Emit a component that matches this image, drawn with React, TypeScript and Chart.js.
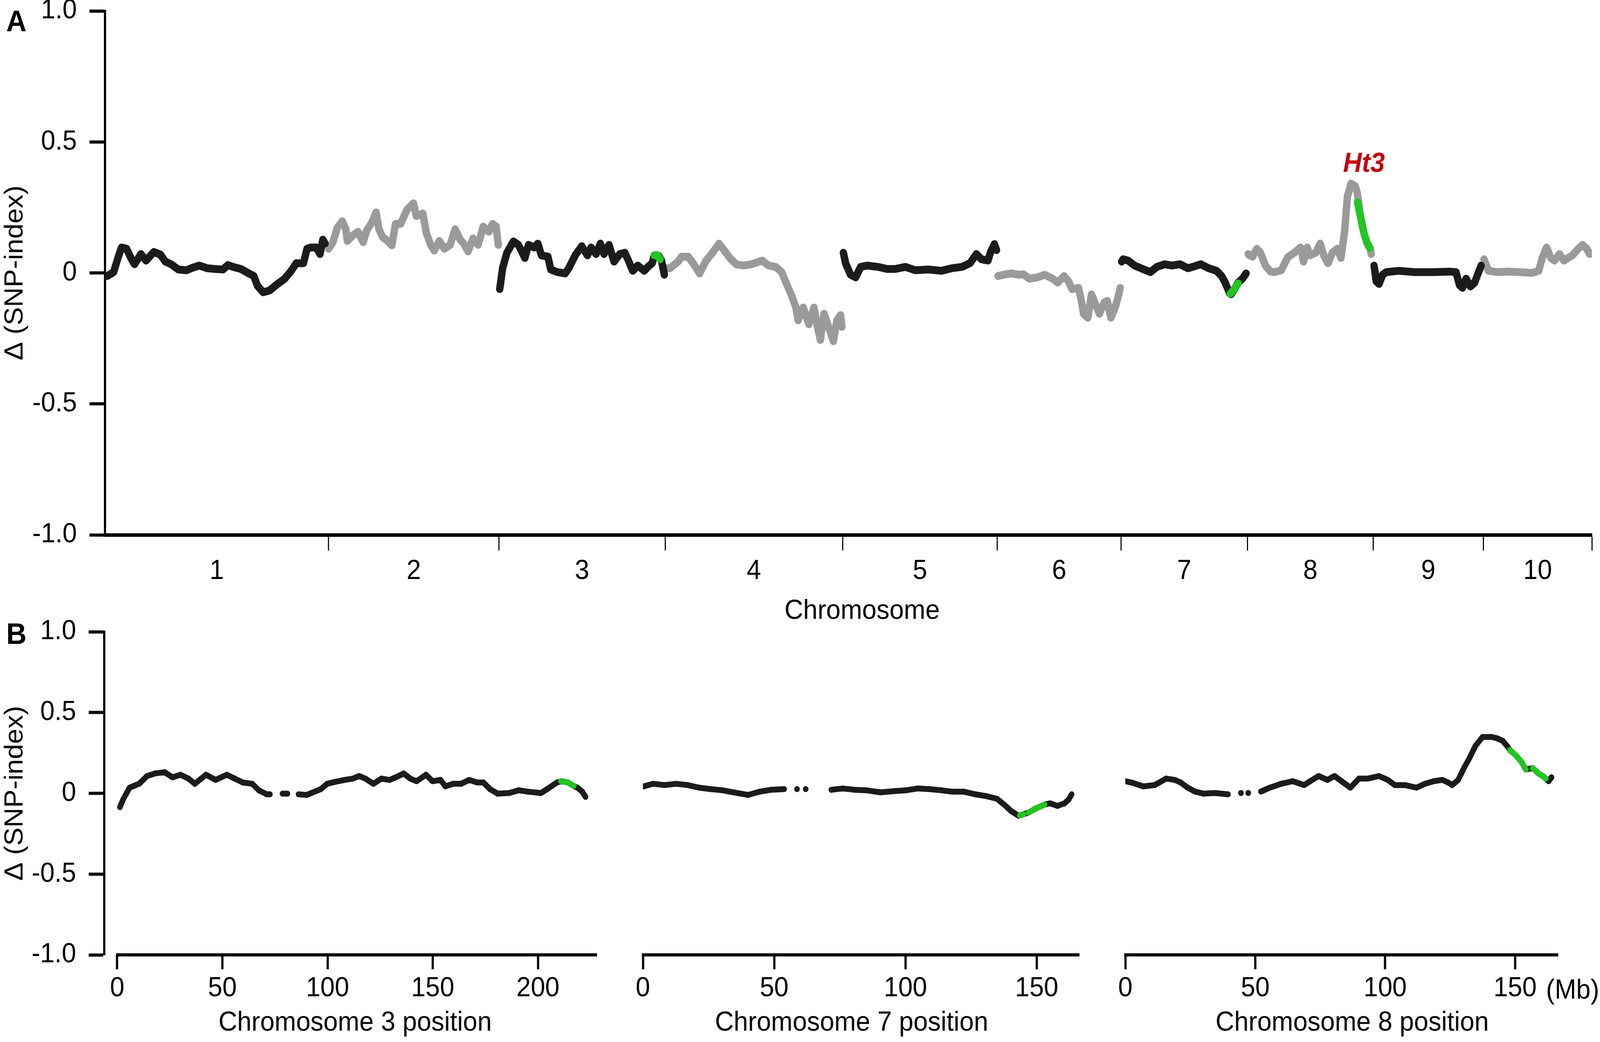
import { useEffect, useRef } from 'react';
import { Chart, registerables } from 'chart.js';

Chart.register(...registerables);

Chart.defaults.font.family = '"Liberation Sans", Arial, Helvetica, sans-serif';
Chart.defaults.color = '#000';

// ---------- data ----------
const chromosomes = ['1', '2', '3', '4', '5', '6', '7', '8', '9', '10'];
const chromLengthsMb = [311, 237, 231, 247, 215, 172, 176, 175, 153, 151];

// [position (Mb), delta SNP-index]
const chr1 = [[3, -0.012], [12, 0.003], [18, 0.057], [23, 0.097], [30, 0.092], [36, 0.057], [41, 0.033], [50, 0.072], [57, 0.047], [68, 0.08], [77, 0.07], [84, 0.043], [92, 0.033], [102, 0.013], [113, 0.01], [122, 0.02], [131, 0.028], [142, 0.018], [153, 0.015], [164, 0.013], [171, 0.03], [178, 0.023], [189, 0.015], [200, -0.002], [207, -0.012], [212, -0.049], [220, -0.074], [229, -0.067], [240, -0.042], [250, -0.022], [259, 0.008], [266, 0.037], [276, 0.037], [281, 0.092], [286, 0.097], [294, 0.097], [299, 0.072], [303, 0.127], [306, 0.112]];
const chr2 = [[0, 0.092], [6, 0.117], [12, 0.172], [19, 0.197], [24, 0.167], [26, 0.122], [33, 0.142], [41, 0.157], [48, 0.117], [53, 0.162], [60, 0.192], [66, 0.231], [70, 0.167], [75, 0.137], [82, 0.122], [88, 0.105], [93, 0.187], [100, 0.187], [109, 0.241], [118, 0.266], [122, 0.217], [131, 0.227], [136, 0.152], [142, 0.107], [147, 0.085], [154, 0.122], [161, 0.092], [169, 0.107], [176, 0.167], [183, 0.127], [188, 0.112], [194, 0.082], [201, 0.132], [208, 0.107], [215, 0.177], [223, 0.157], [228, 0.187], [233, 0.177], [236, 0.107]];
const chr3 = [[1, -0.062], [5, 0.018], [11, 0.077], [20, 0.12], [27, 0.107], [36, 0.057], [41, 0.107], [49, 0.097], [54, 0.112], [59, 0.067], [68, 0.062], [72, 0.013], [81, 0.003], [92, -0.002], [97, 0.018], [106, 0.067], [115, 0.102], [123, 0.067], [128, 0.097], [135, 0.072], [141, 0.112], [146, 0.072], [153, 0.107], [160, 0.043], [168, 0.072], [175, 0.077], [180, 0.047], [186, 0.008], [193, 0.028], [202, 0.008], [207, 0.023], [213, 0.037], [216, 0.067], [222, 0.065], [226, 0.047], [230, -0.007]];
const chr4 = [[1, 0.018], [7, 0.018], [18, 0.043], [23, 0.062], [32, 0.062], [39, 0.037], [48, -0.002], [57, 0.047], [66, 0.077], [75, 0.112], [82, 0.087], [90, 0.057], [99, 0.033], [109, 0.028], [120, 0.033], [135, 0.047], [144, 0.028], [154, 0.023], [162, 0.003], [169, -0.042], [176, -0.087], [182, -0.132], [185, -0.181], [192, -0.132], [200, -0.196], [207, -0.132], [212, -0.206], [216, -0.256], [221, -0.156], [228, -0.211], [234, -0.261], [239, -0.181], [244, -0.161], [246, -0.206]];
const chr5 = [[1, 0.077], [4, 0.037], [11, -0.007], [18, -0.017], [25, 0.023], [34, 0.028], [49, 0.023], [62, 0.015], [73, 0.015], [87, 0.023], [101, 0.01], [119, 0.013], [137, 0.008], [152, 0.018], [166, 0.023], [177, 0.037], [186, 0.072], [193, 0.052], [202, 0.047], [206, 0.082], [211, 0.11], [214, 0.087]];
const chr6 = [[1, -0.012], [9, -0.007], [20, -0.002], [30, -0.007], [36, -0.005], [45, -0.022], [56, -0.017], [66, -0.007], [77, -0.022], [84, -0.037], [93, -0.012], [99, -0.032], [104, -0.062], [113, -0.057], [117, -0.107], [120, -0.156], [126, -0.171], [131, -0.082], [137, -0.122], [142, -0.156], [149, -0.112], [153, -0.107], [158, -0.171], [164, -0.132], [169, -0.082], [171, -0.057]];
const chr7 = [[1, 0.043], [3, 0.052], [10, 0.047], [19, 0.028], [32, 0.013], [41, 0.003], [50, 0.023], [61, 0.033], [71, 0.028], [82, 0.033], [93, 0.018], [100, 0.023], [111, 0.033], [122, 0.018], [133, 0.008], [140, -0.012], [145, -0.037], [151, -0.077], [153, -0.082], [158, -0.062], [163, -0.037], [169, -0.022], [174, -0.002]];
const chr8 = [[1, 0.072], [3, 0.067], [7, 0.062], [13, 0.092], [18, 0.077], [25, 0.028], [32, 0.005], [37, 0.003], [47, 0.01], [56, 0.06], [65, 0.077], [74, 0.097], [78, 0.043], [83, 0.097], [87, 0.067], [95, 0.077], [101, 0.112], [106, 0.067], [112, 0.037], [118, 0.077], [125, 0.092], [130, 0.057], [135, 0.157], [139, 0.291], [144, 0.341], [150, 0.331], [153, 0.301], [157, 0.217], [162, 0.152], [166, 0.117], [171, 0.092], [172, 0.072]];
const chr9 = [[1, 0.028], [2, 0.012], [4, -0.032], [8, -0.042], [13, -0.007], [18, 0.003], [36, 0.008], [57, 0.003], [82, 0.003], [106, 0.005], [115, 0.003], [120, -0.047], [124, -0.057], [129, -0.022], [135, -0.052], [141, -0.037], [145, -0.007], [150, 0.028]];
const chr10 = [[1, 0.052], [3, 0.037], [7, 0.008], [20, 0.003], [35, 0.005], [50, 0.003], [68, 0.0], [77, 0.008], [82, 0.057], [88, 0.097], [94, 0.057], [99, 0.047], [106, 0.072], [112, 0.047], [118, 0.057], [124, 0.067], [132, 0.092], [138, 0.107], [144, 0.092], [148, 0.072]];

// highlighted (green) intervals in panel A
const chr3Green = [[216, 0.067], [220, 0.068], [224, 0.052]];
const chr7Green = [[152, -0.08], [158, -0.062], [163, -0.04]];
const chr8Green = [[153, 0.27], [157, 0.217], [162, 0.152], [166, 0.117], [170, 0.095]];

// panel B, single chromosomes (null = gap)
const chr3B = [[1.3, -0.086], [2.8, -0.038], [5.9, 0.035], [10.4, 0.059], [14.2, 0.107], [18, 0.123], [22.5, 0.131], [26.3, 0.099], [30.1, 0.115], [33.9, 0.091], [36.9, 0.059], [42.2, 0.115], [46.8, 0.083], [52.1, 0.115], [55.9, 0.091], [59.7, 0.067], [64.2, 0.059], [67.3, 0.019], [71.1, -0.006], [72.6, -0.006], [75, null], [78.6, -0.002], [80.9, -0.002], [83.5, null], [86.2, -0.006], [90, -0.01], [92.3, 0.002], [96.8, 0.026], [99.8, 0.059], [103.6, 0.071], [108.2, 0.083], [112, 0.091], [115, 0.107], [118, 0.091], [121.8, 0.059], [125.6, 0.091], [129.4, 0.083], [132.4, 0.099], [136.2, 0.123], [139.3, 0.091], [142.3, 0.075], [146.8, 0.115], [149.9, 0.075], [153.7, 0.083], [156, 0.043], [159.7, 0.059], [163.5, 0.059], [167.3, 0.083], [171.1, 0.067], [174.1, 0.067], [177.2, 0.026], [180.9, -0.002], [186.3, 0.002], [190.8, 0.019], [195.3, 0.01], [201.4, 0.002], [204.4, 0.026], [209, 0.067], [211.3, 0.075], [214.3, 0.067], [217.3, 0.043], [218.8, 0.035], [221.1, 0.01], [222.6, -0.022]];
const chr3BGreen = [[211, 0.075], [214.3, 0.068], [217, 0.046]];
const chr7B = [[0.3, 0.043], [3.9, 0.059], [8.3, 0.051], [12.7, 0.059], [17, 0.051], [21.4, 0.035], [25.8, 0.026], [30.2, 0.019], [34.6, 0.006], [40.1, -0.01], [44.4, 0.01], [48.8, 0.022], [53.8, 0.026], [56, null], [58.7, 0.026], [60.3, null], [62, 0.026], [66, null], [71.8, 0.022], [76.2, 0.03], [80.6, 0.022], [85, 0.019], [90.5, 0.006], [96, 0.014], [100.3, 0.019], [104.7, 0.03], [109.1, 0.026], [113.5, 0.019], [117.9, 0.01], [122.3, 0.01], [126.6, -0.006], [131, -0.018], [134.9, -0.034], [137.6, -0.07], [140.3, -0.11], [143.1, -0.139], [144.7, -0.131], [146.9, -0.119], [149.6, -0.094], [153, -0.07], [155.1, -0.062], [157.9, -0.078], [160.6, -0.062], [162.2, -0.038], [163.3, -0.006]];
const chr7BGreen = [[143.6, -0.137], [144.9, -0.13], [145.8, null], [146.9, -0.119], [149.6, -0.094], [153, -0.07]];
const chr8B = [[0, 0.075], [2.4, 0.067], [6.9, 0.043], [11.3, 0.051], [15.7, 0.091], [19, 0.083], [21.3, 0.067], [24, 0.035], [26.8, 0.011], [30.1, -0.002], [34.5, 0.002], [39.5, -0.006], [42, null], [44.5, 0.002], [46, null], [47.3, 0.002], [49.5, null], [52.2, 0.011], [55.6, 0.035], [60, 0.059], [64.4, 0.075], [68.8, 0.051], [71.1, 0.075], [74.4, 0.107], [77.7, 0.083], [80.5, 0.107], [83.2, 0.075], [86.6, 0.035], [89.9, 0.091], [93.2, 0.091], [97.6, 0.107], [101, 0.083], [103.7, 0.051], [107.6, 0.051], [112, 0.035], [115.3, 0.059], [118.7, 0.075], [122, 0.083], [124.2, 0.067], [125.8, 0.051], [128.1, 0.083], [130.3, 0.156], [132.5, 0.22], [134.7, 0.293], [137.5, 0.349], [140.8, 0.349], [143, 0.341], [145.2, 0.325], [146.9, 0.293], [148, 0.268], [150.2, 0.236], [152.4, 0.196], [154.1, 0.148], [156.8, 0.156], [159, 0.123], [160.7, 0.107], [161.8, 0.091], [162.9, 0.075], [164, 0.099]];
const chr8BGreen = [[148, 0.268], [150.2, 0.236], [152.4, 0.196], [154.1, 0.148], [155.3, null], [156.8, 0.156], [159, 0.123], [160.7, 0.107], [161.8, 0.091]];

const deltaTicks = [-1, -0.5, 0, 0.5, 1];
const chr3BTicks = [0, 50, 100, 150, 200];
const chr7BTicks = [0, 50, 100, 150];
const chr8BTicks = [0, 50, 100, 150];

// ---------- styles ----------
const BLACK = '#1b1b1b';
const GRAY = '#9a9a9a';
const GREEN = '#22c522';
const RED = '#c2000e';
const FONT = 70;
const PAGE_W = 4328;
const PAGE_H = 2667;

const chromStarts = chromLengthsMb.map((_, i) =>
  chromLengthsMb.slice(0, i).reduce((s, v) => s + v, 0)
);
const genomeEnd = chromStarts[9] + chromLengthsMb[9];
const chromCenters = chromStarts.map((s, i) => s + chromLengthsMb[i] / 2);
const chromEnds = chromStarts.map((s, i) => s + chromLengthsMb[i]);

type Pt = (number | null)[];

function trace(pts: Pt[], offset: number, color: string, width: number, radius: number, order: number) {
  return {
    data: pts.map(([mb, d]) => ({ x: offset + (mb as number), y: d })),
    borderColor: color,
    backgroundColor: color,
    borderWidth: width,
    pointRadius: radius,
    pointHoverRadius: radius,
    pointBorderWidth: 0,
    pointBackgroundColor: color,
    borderCapStyle: 'round',
    borderJoinStyle: 'round',
    tension: 0,
    spanGaps: false,
    fill: false,
    order,
  };
}

function deltaAxis(width: number, display = true) {
  return {
    type: 'linear',
    display,
    min: -1,
    max: 1,
    afterBuildTicks: (s: any) => { s.ticks = deltaTicks.map((v) => ({ value: v })); },
    ticks: {
      color: '#000',
      font: { size: FONT },
      padding: 34,
      callback: (v: number) => (v === 0 ? '0' : v.toFixed(1)),
    },
    grid: { drawOnChartArea: false, tickLength: 42, tickWidth: 8, tickColor: '#000' },
    border: { display: true, color: '#000', width: 6 },
    title: { display: true, text: 'Δ (SNP-index)', color: '#000', font: { size: FONT }, padding: 0 },
    afterFit: (s: any) => { s.width = width; s.paddingTop = 0; s.paddingBottom = 0; },
  };
}

const ht3Label = {
  id: 'ht3Label',
  afterDatasetsDraw(chart: any) {
    const { ctx, scales: { x, y } } = chart;
    ctx.save();
    ctx.font = `italic bold ${FONT}px "Liberation Sans", Arial, sans-serif`;
    ctx.fillStyle = RED;
    ctx.textAlign = 'center';
    ctx.textBaseline = 'middle';
    ctx.fillText('Ht3', x.getPixelForValue(chromStarts[7] + 162), y.getPixelForValue(0.415));
    ctx.restore();
  },
};

// x axis line of panel B starts at 0 Mb, not at the y axis
const mbBaseline = {
  id: 'mbBaseline',
  afterDraw(chart: any) {
    const { ctx, chartArea, scales: { x } } = chart;
    ctx.save();
    ctx.strokeStyle = '#000';
    ctx.lineWidth = 8;
    ctx.beginPath();
    ctx.moveTo(x.getPixelForValue(0) - 3, chartArea.bottom);
    ctx.lineTo(chartArea.right, chartArea.bottom);
    ctx.stroke();
    ctx.restore();
  },
};

// x axis title, nudged sideways like in the original figure
const xTitle = {
  id: 'xTitle',
  afterDraw(chart: any, _args: any, opts: any) {
    const { ctx, chartArea, height } = chart;
    ctx.save();
    ctx.font = `${FONT}px "Liberation Sans", Arial, sans-serif`;
    ctx.fillStyle = '#000';
    ctx.textAlign = 'center';
    ctx.textBaseline = 'middle';
    ctx.fillText(opts.text, (chartArea.left + chartArea.right) / 2 + opts.dx, height - opts.fromBottom);
    ctx.restore();
  },
};

function panelAConfig(): any {
  const traces = [chr1, chr2, chr3, chr4, chr5, chr6, chr7, chr8, chr9, chr10];
  const datasets: any[] = traces.map((pts, i) =>
    trace(pts, chromStarts[i], i % 2 === 0 ? BLACK : GRAY, 20, 0, 1)
  );
  datasets.push(trace(chr3Green, chromStarts[2], GREEN, 20, 0, 0));
  datasets.push(trace(chr7Green, chromStarts[6], GREEN, 20, 0, 0));
  datasets.push(trace(chr8Green, chromStarts[7], GREEN, 20, 0, 0));

  const labelAt = new Map(chromCenters.map((c, i) => [c, chromosomes[i]]));
  const boundaries = new Set(chromEnds);
  const xTicks = [...chromCenters, ...chromEnds].sort((a, b) => a - b);

  return {
    type: 'line',
    data: { datasets },
    plugins: [ht3Label, xTitle],
    options: {
      animation: false,
      responsive: true,
      maintainAspectRatio: false,
      events: [],
      layout: { padding: { top: 28, right: 22, bottom: 0, left: 0 } },
      plugins: {
        legend: { display: false },
        tooltip: { enabled: false },
        xTitle: { text: 'Chromosome', dx: 37, fromBottom: 55 },
      },
      scales: {
        x: {
          type: 'linear',
          min: 0,
          max: genomeEnd,
          afterBuildTicks: (s: any) => { s.ticks = xTicks.map((v) => ({ value: v })); },
          ticks: {
            autoSkip: false,
            maxRotation: 0,
            minRotation: 0,
            padding: 12,
            color: '#000',
            font: { size: FONT },
            callback: (v: number) => labelAt.get(v) ?? '',
          },
          grid: {
            drawOnChartArea: false,
            tickLength: 40,
            tickWidth: 3,
            tickColor: (ctx: any) => (boundaries.has(ctx.tick?.value) ? '#000' : 'rgba(0,0,0,0)'),
          },
          border: { display: true, color: '#000', width: 9 },
          title: { display: false },
          afterFit: (s: any) => { s.height = 251; s.paddingLeft = 0; s.paddingRight = 0; },
        },
        y: deltaAxis(284),
      },
    },
  };
}

function panelBConfig(
  pts: Pt[], green: Pt[], ticks: number[], xMin: number, xMax: number,
  title: string, titleDx: number, padding: any, yWidth: number | null
): any {
  return {
    type: 'line',
    data: { datasets: [trace(green, 0, GREEN, 15, 7.5, 0), trace(pts, 0, BLACK, 15, 7.5, 1)] },
    plugins: [mbBaseline, xTitle],
    options: {
      animation: false,
      responsive: true,
      maintainAspectRatio: false,
      events: [],
      layout: { padding },
      plugins: {
        legend: { display: false },
        tooltip: { enabled: false },
        xTitle: { text: title, dx: titleDx, fromBottom: 48 },
      },
      scales: {
        x: {
          type: 'linear',
          min: xMin,
          max: xMax,
          afterBuildTicks: (s: any) => { s.ticks = ticks.map((v) => ({ value: v })); },
          ticks: { autoSkip: false, maxRotation: 0, padding: 8, color: '#000', font: { size: FONT } },
          grid: { drawOnChartArea: false, tickLength: 37, tickWidth: 6, tickColor: '#000' },
          border: { display: false },
          title: { display: false },
          afterFit: (s: any) => { s.height = 223; s.paddingLeft = 0; s.paddingRight = 0; },
        },
        y: yWidth === null ? deltaAxis(0, false) : deltaAxis(yWidth),
      },
    },
  };
}

type Box = { left: number; top: number; width: number; height: number };

function ChartBox({ box, build }: { box: Box; build: () => any }) {
  const canvasRef = useRef<HTMLCanvasElement>(null);
  const chartRef = useRef<Chart | null>(null);

  useEffect(() => {
    if (!canvasRef.current) return;
    if (chartRef.current) chartRef.current.destroy();
    chartRef.current = new Chart(canvasRef.current, build());
    return () => {
      if (chartRef.current) {
        chartRef.current.destroy();
        chartRef.current = null;
      }
    };
  }, [build]);

  return (
    <div style={{ position: 'absolute', left: box.left, top: box.top, width: box.width, height: box.height }}>
      <canvas ref={canvasRef} />
    </div>
  );
}

const buildA = () => panelAConfig();
const buildB3 = () =>
  panelBConfig(chr3B, chr3BGreen, chr3BTicks, -6.15, 228.1, 'Chromosome 3 position', 12, { top: 57, right: 25, left: 0, bottom: 0 }, 282);
const buildB7 = () =>
  panelBConfig(chr7B, chr7BGreen, chr7BTicks, 0, 166.3, 'Chromosome 7 position', -26, { top: 57, right: 60, left: 39, bottom: 0 }, null);
const buildB8 = () =>
  panelBConfig(chr8B, chr8BGreen, chr8BTicks, 0, 166.6, 'Chromosome 8 position', 28, { top: 57, right: 113, left: 54, bottom: 0 }, null);

const letter = { position: 'absolute' as const, fontFamily: '"Liberation Sans", Arial, sans-serif', fontWeight: 700, fontSize: 76, lineHeight: '76px', color: '#000' };

export default function App() {
  // the figure is laid out on a 4328 x 2667 grid and stretched to the viewport
  const sx = typeof window !== 'undefined' && window.innerWidth ? window.innerWidth / PAGE_W : 1;
  const sy = typeof window !== 'undefined' && window.innerHeight ? window.innerHeight / PAGE_H : 1;
  return (
    <div style={{ position: 'absolute', left: 0, top: 0, width: PAGE_W, height: PAGE_H, background: '#fff', overflow: 'hidden', transform: `scale(${sx}, ${sy})`, transformOrigin: '0 0' }}>
      <ChartBox box={{ left: 0, top: 0, width: PAGE_W, height: 1620 }} build={buildA} />
      <ChartBox box={{ left: 0, top: 1560, width: 1640, height: 1107 }} build={buildB3} />
      <ChartBox box={{ left: 1700, top: 1560, width: 1280, height: 1107 }} build={buildB7} />
      <ChartBox box={{ left: 2990, top: 1560, width: 1338, height: 1107 }} build={buildB8} />
      <div style={{ ...letter, left: 17, top: 16 }}>A</div>
      <div style={{ ...letter, left: 17, top: 1584 }}>B</div>
      <div style={{ ...letter, fontSize: FONT, lineHeight: `${FONT}px`, fontWeight: 400, left: 4182, top: 2497 }}>(Mb)</div>
    </div>
  );
}
